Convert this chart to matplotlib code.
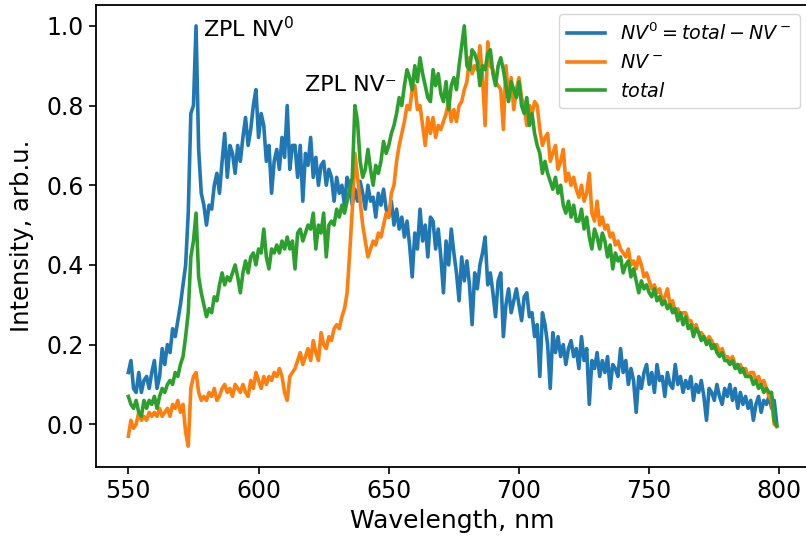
import numpy as np
import matplotlib
matplotlib.use('Agg')
import matplotlib.pyplot as plt

# wavelength grid, nm (1 nm steps, 550..799)
wavelength = np.arange(550, 800)

# NV0 = total - NV-  (normalized)
nv0 = [
    0.13, 0.16, 0.09, 0.08, 0.13, 0.08, 0.11, 0.12, 0.09, 0.13,
    0.16, 0.09, 0.12, 0.19, 0.15, 0.20, 0.18, 0.24, 0.22, 0.26,
    0.30, 0.35, 0.40, 0.53, 0.78, 0.80, 1.00, 0.69, 0.58, 0.55,
    0.50, 0.55, 0.54, 0.60, 0.63, 0.58, 0.66, 0.73, 0.62, 0.70,
    0.68, 0.63, 0.70, 0.66, 0.72, 0.77, 0.70, 0.74, 0.80, 0.84,
    0.72, 0.78, 0.75, 0.66, 0.70, 0.58, 0.66, 0.69, 0.64, 0.72,
    0.67, 0.80, 0.64, 0.70, 0.70, 0.62, 0.70, 0.56, 0.68, 0.65,
    0.72, 0.62, 0.67, 0.60, 0.65, 0.66, 0.60, 0.64, 0.62, 0.56,
    0.62, 0.58, 0.60, 0.55, 0.62, 0.60, 0.55, 0.59, 0.56, 0.61,
    0.58, 0.54, 0.60, 0.56, 0.57, 0.52, 0.58, 0.55, 0.59, 0.54,
    0.52, 0.56, 0.50, 0.54, 0.49, 0.52, 0.47, 0.51, 0.45, 0.37,
    0.48, 0.44, 0.54, 0.46, 0.50, 0.42, 0.52, 0.51, 0.44, 0.49,
    0.42, 0.33, 0.46, 0.40, 0.49, 0.43, 0.38, 0.31, 0.42, 0.36,
    0.41, 0.35, 0.25, 0.38, 0.34, 0.40, 0.43, 0.47, 0.35, 0.38,
    0.33, 0.27, 0.36, 0.38, 0.22, 0.30, 0.34, 0.28, 0.31, 0.34,
    0.30, 0.26, 0.32, 0.33, 0.27, 0.28, 0.22, 0.25, 0.12, 0.28,
    0.25, 0.20, 0.09, 0.23, 0.18, 0.22, 0.17, 0.20, 0.15, 0.19,
    0.21, 0.17, 0.19, 0.14, 0.22, 0.16, 0.19, 0.05, 0.16, 0.14,
    0.18, 0.12, 0.16, 0.13, 0.17, 0.09, 0.15, 0.14, 0.12, 0.19,
    0.13, 0.16, 0.10, 0.14, 0.11, 0.03, 0.12, 0.09, 0.13, 0.15,
    0.10, 0.13, 0.08, 0.15, 0.11, 0.12, 0.07, 0.13, 0.10, 0.09,
    0.15, 0.10, 0.12, 0.08, 0.11, 0.09, 0.12, 0.06, 0.10, 0.08,
    0.11, 0.07, 0.01, 0.09, 0.08, 0.06, 0.10, 0.07, 0.05, 0.09,
    0.07, 0.10, 0.06, 0.09, 0.04, 0.08, 0.05, 0.07, 0.04, 0.06,
    0.01, 0.05, 0.07, 0.03, 0.06, 0.05, 0.07, 0.04, 0.06, 0.00,
]

# NV- (normalized)
nv_minus = [
    -0.03, 0.01, -0.01, 0.00, 0.03, 0.01, 0.02, 0.01, 0.03, 0.02,
    0.03, 0.02, 0.04, 0.02, 0.03, 0.04, 0.02, 0.05, 0.04, 0.06,
    0.03, 0.05, -0.02, -0.055, 0.09, 0.12, 0.13, 0.08, 0.06, 0.07,
    0.06, 0.08, 0.07, 0.09, 0.06, 0.07, 0.09, 0.10, 0.08, 0.09,
    0.07, 0.10, 0.09, 0.08, 0.10, 0.08, 0.07, 0.11, 0.09, 0.13,
    0.11, 0.09, 0.12, 0.10, 0.12, 0.11, 0.13, 0.12, 0.14, 0.12,
    0.08, 0.06, 0.12, 0.13, 0.14, 0.16, 0.18, 0.15, 0.17, 0.19,
    0.16, 0.21, 0.18, 0.16, 0.23, 0.20, 0.19, 0.22, 0.21, 0.24,
    0.25, 0.24, 0.27, 0.29, 0.33, 0.43, 0.54, 0.68, 0.62, 0.56,
    0.50, 0.46, 0.42, 0.44, 0.46, 0.45, 0.48, 0.47, 0.50, 0.53,
    0.52, 0.58, 0.60, 0.66, 0.70, 0.73, 0.76, 0.80, 0.79, 0.84,
    0.85, 0.79, 0.80, 0.75, 0.70, 0.77, 0.73, 0.77, 0.72, 0.75,
    0.74, 0.76, 0.78, 0.81, 0.76, 0.79, 0.76, 0.80, 0.81, 0.84,
    0.86, 0.92, 0.88, 0.90, 0.89, 0.95, 0.87, 0.75, 0.96, 0.90,
    0.89, 0.86, 0.85, 0.84, 0.74, 0.90, 0.82, 0.87, 0.79, 0.84,
    0.87, 0.82, 0.80, 0.75, 0.80, 0.78, 0.81, 0.80, 0.74, 0.70,
    0.72, 0.73, 0.66, 0.68, 0.70, 0.64, 0.66, 0.69, 0.61, 0.63,
    0.60, 0.62, 0.59, 0.57, 0.60, 0.56, 0.58, 0.63, 0.53, 0.51,
    0.56, 0.50, 0.52, 0.49, 0.50, 0.47, 0.48, 0.45, 0.46, 0.44,
    0.43, 0.42, 0.44, 0.40, 0.41, 0.39, 0.42, 0.40, 0.37, 0.38,
    0.36, 0.34, 0.35, 0.33, 0.34, 0.31, 0.32, 0.34, 0.30, 0.31,
    0.28, 0.29, 0.27, 0.28, 0.28, 0.26, 0.26, 0.24, 0.25, 0.23,
    0.23, 0.22, 0.21, 0.22, 0.21, 0.19, 0.20, 0.18, 0.19, 0.17,
    0.17, 0.16, 0.17, 0.15, 0.14, 0.15, 0.13, 0.14, 0.12, 0.13,
    0.13, 0.11, 0.12, 0.10, 0.11, 0.09, 0.07, 0.06, 0.00, -0.005,
]

# total (normalized)
total = [
    0.07, 0.05, 0.04, 0.06, 0.03, 0.02, 0.06, 0.04, 0.06, 0.05,
    0.07, 0.04, 0.07, 0.09, 0.08, 0.10, 0.11, 0.10, 0.13, 0.12,
    0.15, 0.17, 0.22, 0.28, 0.42, 0.46, 0.53, 0.37, 0.33, 0.30,
    0.27, 0.29, 0.28, 0.32, 0.31, 0.35, 0.38, 0.35, 0.37, 0.36,
    0.38, 0.40, 0.37, 0.33, 0.38, 0.41, 0.38, 0.42, 0.43, 0.40,
    0.44, 0.43, 0.49, 0.42, 0.39, 0.44, 0.43, 0.45, 0.43, 0.46,
    0.44, 0.47, 0.44, 0.46, 0.39, 0.48, 0.49, 0.46, 0.48, 0.50,
    0.49, 0.53, 0.44, 0.50, 0.48, 0.53, 0.42, 0.50, 0.51, 0.50,
    0.54, 0.52, 0.55, 0.53, 0.56, 0.59, 0.62, 0.80, 0.76, 0.66,
    0.62, 0.64, 0.69, 0.64, 0.60, 0.65, 0.63, 0.66, 0.71, 0.68,
    0.70, 0.73, 0.75, 0.78, 0.82, 0.80, 0.85, 0.89, 0.87, 0.84,
    0.90, 0.86, 0.92, 0.88, 0.85, 0.82, 0.81, 0.89, 0.85, 0.88,
    0.83, 0.81, 0.86, 0.79, 0.85, 0.87, 0.84, 0.90, 0.95, 1.00,
    0.90, 0.89, 0.94, 0.93, 0.91, 0.85, 0.90, 0.89, 0.93, 0.94,
    0.88, 0.85, 0.90, 0.92, 0.89, 0.85, 0.81, 0.86, 0.84, 0.82,
    0.86, 0.80, 0.78, 0.82, 0.75, 0.78, 0.73, 0.70, 0.68, 0.63,
    0.66, 0.63, 0.61, 0.59, 0.62, 0.58, 0.60, 0.55, 0.53, 0.56,
    0.52, 0.55, 0.51, 0.51, 0.54, 0.49, 0.52, 0.47, 0.44, 0.49,
    0.47, 0.44, 0.48, 0.46, 0.42, 0.45, 0.39, 0.43, 0.41, 0.42,
    0.38, 0.40, 0.41, 0.37, 0.39, 0.36, 0.33, 0.36, 0.34, 0.35,
    0.33, 0.32, 0.34, 0.31, 0.32, 0.30, 0.31, 0.29, 0.30, 0.28,
    0.29, 0.26, 0.28, 0.25, 0.27, 0.24, 0.25, 0.22, 0.24, 0.23,
    0.21, 0.22, 0.20, 0.21, 0.19, 0.20, 0.18, 0.17, 0.18, 0.16,
    0.16, 0.15, 0.16, 0.14, 0.15, 0.13, 0.14, 0.12, 0.12, 0.12,
    0.10, 0.11, 0.09, 0.10, 0.08, 0.09, 0.08, 0.08, 0.01, -0.005,
]

fig = plt.figure(figsize=(8.06, 5.42), dpi=100)
ax = fig.add_axes([0.119, 0.138, 0.885, 0.853])

lw = 2.6
ax.plot(wavelength, nv0, color='#1f77b4', lw=lw, label=r'$NV^0 = total - NV^-$')
ax.plot(wavelength, nv_minus, color='#ff7f0e', lw=lw, label=r'$NV^-$')
ax.plot(wavelength, total, color='#2ca02c', lw=lw, label=r'$total$')

ax.text(578.6, 0.972, 'ZPL NV$^0$', fontsize=16)
ax.text(617.8, 0.837, 'ZPL NV\u207b', fontsize=16)

ax.set_xlabel('Wavelength, nm', fontsize=18)
ax.set_ylabel('Intensity, arb.u.', fontsize=17.5, labelpad=9)
ax.set_xticks([550, 600, 650, 700, 750, 800])
ax.set_yticks([0.0, 0.2, 0.4, 0.6, 0.8, 1.0])
ax.tick_params(labelsize=17, length=5.2, width=1.2)
for s in ax.spines.values():
    s.set_linewidth(1.3)

ax.legend(loc='upper right', fontsize=13.8)

fig.savefig('out.png', dpi=100)
